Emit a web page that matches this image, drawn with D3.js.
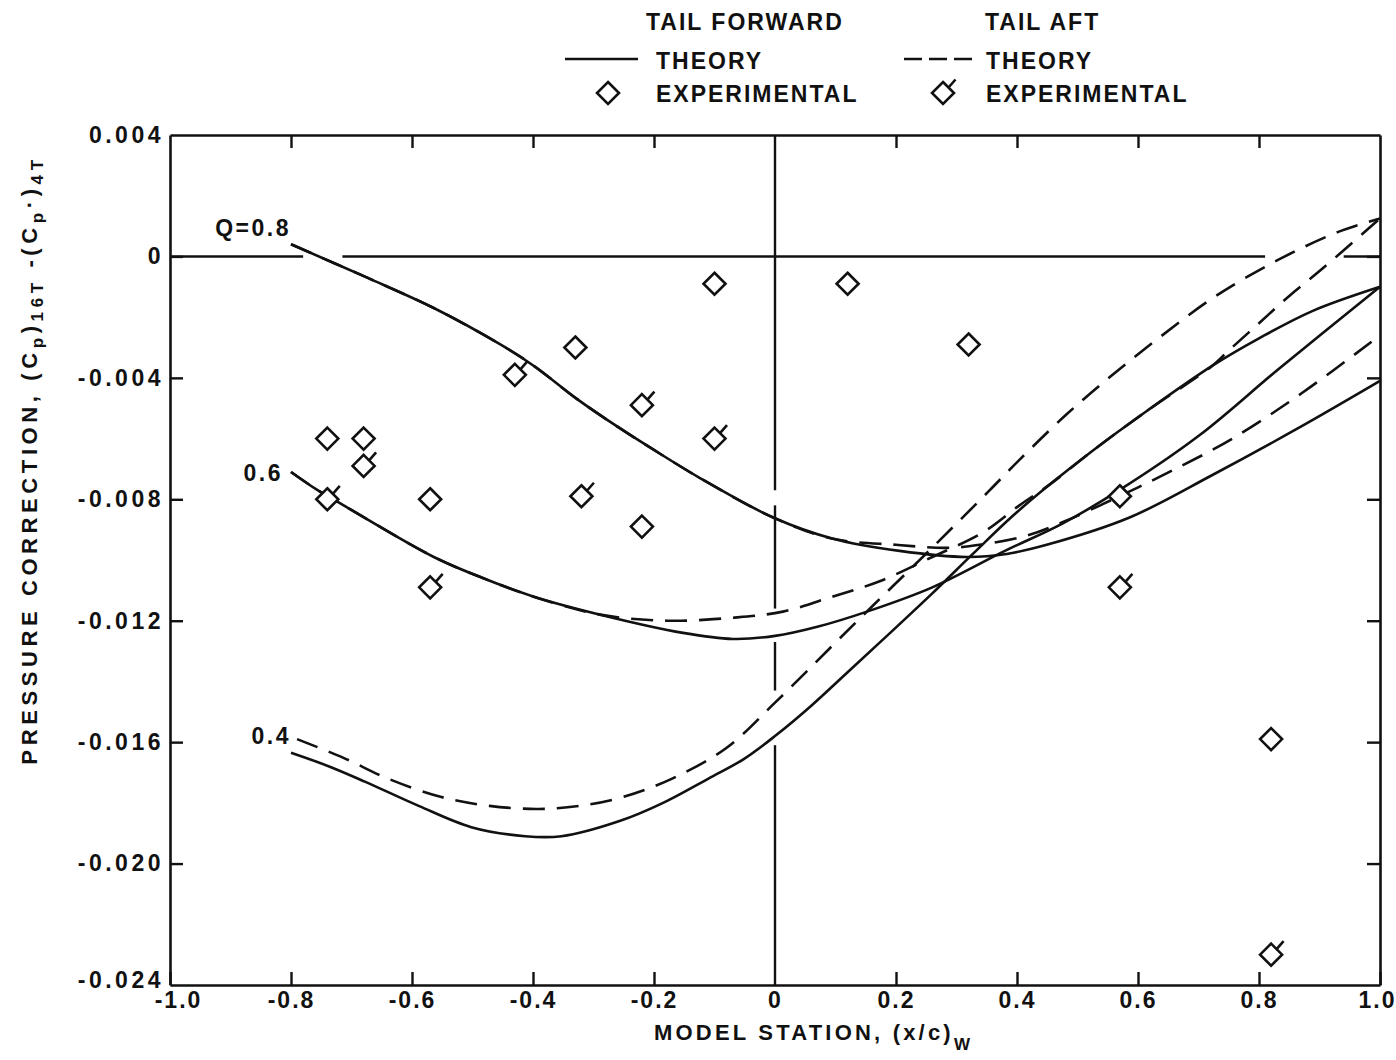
<!DOCTYPE html>
<html>
<head>
<meta charset="utf-8">
<script src="https://cdn.jsdelivr.net/npm/d3@7"></script>
<style>
  body { margin: 0; background: #fff; }
  svg text { font-family: "Liberation Sans", Arial, sans-serif; fill: #111; font-weight: bold; }
</style>
</head>
<body>
<svg id="chart" width="1396" height="1060"></svg>
<script>
// ---- axis ticks ----
const xTickValues = [-1.0, -0.8, -0.6, -0.4, -0.2, 0, 0.2, 0.4, 0.6, 0.8, 1.0];
const xTickLabels = ["-1.0", "-0.8", "-0.6", "-0.4", "-0.2", "0", "0.2", "0.4", "0.6", "0.8", "1.0"];
const yTickValues = [0.004, 0, -0.004, -0.008, -0.012, -0.016, -0.020, -0.024];
const yTickLabels = ["0.004", "0", "-0.004", "-0.008", "-0.012", "-0.016", "-0.020", "-0.024"];

// ---- theory curves: [station (x/c)w, pressure correction] ----
// tail forward (solid)
const theoryForwardQ08 = [
  [-0.80, 0.0004], [-0.674, -0.0007], [-0.564, -0.0017], [-0.454, -0.0029], [-0.399, -0.0036],
  [-0.327, -0.0047], [-0.261, -0.0056], [-0.206, -0.0063], [-0.124, -0.0073], [-0.003, -0.0086],
  [0.096, -0.0093], [0.206, -0.0097], [0.317, -0.0099], [0.383, -0.0098], [0.449, -0.0095],
  [0.586, -0.0086], [0.723, -0.0072], [0.861, -0.0057], [1.0, -0.0041]
];
const theoryForwardQ06 = [
  [-0.80, -0.0071], [-0.756, -0.0077], [-0.713, -0.0082], [-0.564, -0.0099], [-0.482, -0.0106],
  [-0.40, -0.0112], [-0.289, -0.0118], [-0.152, -0.0124], [-0.07, -0.0126], [0.0, -0.0125],
  [0.07, -0.0122], [0.152, -0.0117], [0.26, -0.0109], [0.38, -0.0097], [0.475, -0.0088],
  [0.569, -0.0077], [0.701, -0.0059], [0.833, -0.0037], [1.0, -0.0010]
];
const theoryForwardQ04 = [
  [-0.80, -0.01635], [-0.737, -0.0168], [-0.678, -0.0173], [-0.589, -0.0181], [-0.502, -0.0188],
  [-0.413, -0.0191], [-0.353, -0.0191], [-0.257, -0.0186], [-0.185, -0.0180], [-0.11, -0.0172],
  [-0.051, -0.01655], [0.0, -0.0158], [0.06, -0.0148], [0.12, -0.0137], [0.185, -0.0125],
  [0.26, -0.0111], [0.327, -0.0098], [0.39, -0.0086], [0.455, -0.0075], [0.525, -0.0064],
  [0.614, -0.0051], [0.723, -0.0036], [0.80, -0.0027], [0.888, -0.0018], [1.0, -0.0010]
];
// tail aft (dashed)
const theoryAftQ08 = [
  [-0.80, 0.0004], [-0.674, -0.0007], [-0.564, -0.0017], [-0.454, -0.0029], [-0.399, -0.0036],
  [-0.327, -0.0047], [-0.261, -0.0056], [-0.206, -0.0063], [-0.124, -0.0073], [-0.003, -0.0086],
  [0.096, -0.0093], [0.20, -0.0095], [0.284, -0.0096], [0.338, -0.0095], [0.416, -0.0092],
  [0.482, -0.0087], [0.569, -0.0079], [0.652, -0.0071], [0.756, -0.0060], [0.871, -0.0045],
  [1.0, -0.0026]
];
const theoryAftQ06 = [
  [-0.80, -0.0071], [-0.756, -0.0077], [-0.713, -0.0082], [-0.564, -0.0099], [-0.482, -0.0106],
  [-0.40, -0.0112], [-0.289, -0.0118], [-0.178, -0.0120], [-0.069, -0.0119], [0.013, -0.0117],
  [0.096, -0.0112], [0.173, -0.0107], [0.26, -0.0099], [0.343, -0.0091], [0.404, -0.0082],
  [0.455, -0.0075], [0.525, -0.0064], [0.614, -0.0051], [0.723, -0.0036], [0.75, -0.0031],
  [0.80, -0.0022], [0.85, -0.0013], [0.905, -0.0004], [1.0, 0.00125]
];
const theoryAftQ04 = [
  [-0.79, -0.0159], [-0.715, -0.0165], [-0.64, -0.0172], [-0.553, -0.0178], [-0.472, -0.0181],
  [-0.391, -0.0182], [-0.323, -0.0181], [-0.25, -0.0178], [-0.17, -0.0172], [-0.081, -0.0162],
  [0.0, -0.0147], [0.096, -0.0128], [0.162, -0.0115], [0.234, -0.0101], [0.30, -0.0088],
  [0.355, -0.0077], [0.404, -0.0067], [0.482, -0.0052], [0.558, -0.0039], [0.64, -0.0026],
  [0.729, -0.0013], [0.833, -0.0001], [0.93, 0.0008], [1.0, 0.00125]
];

// ---- experimental points ----
const expForwardX = [-0.74, -0.68, -0.57, -0.33, -0.22, -0.10, 0.12, 0.32, 0.57, 0.82];
const expForwardY = [-0.0060, -0.0060, -0.0080, -0.0030, -0.0089, -0.0009, -0.0009, -0.0029, -0.0079, -0.0159];
const expAftX = [-0.74, -0.68, -0.57, -0.43, -0.32, -0.22, -0.10, 0.57, 0.82];
const expAftY = [-0.0080, -0.0069, -0.0109, -0.0039, -0.0079, -0.0049, -0.0060, -0.0109, -0.0230];

// ---- curve labels ----
const curveLabelText = ["Q=0.8", "0.6", "0.4"];

// ---- legend text ----
const legendHeads = ["TAIL FORWARD", "TAIL AFT"];
const legendRows = ["THEORY", "EXPERIMENTAL"];

// ================= drawing =================
const svg = d3.select("#chart");
const ink = "#111";
const plotLeft = 170, plotRight = 1380, plotTop = 135, plotBottom = 985;

const x = d3.scaleLinear().domain([-1, 1]).range([plotLeft, plotRight]);
const y = d3.scaleLinear().domain([-0.024, 0.004]).range([plotBottom, plotTop]);

// reference lines (zero line and x = 0), broken where curves pass
const refG = svg.append("g").attr("stroke", ink).attr("stroke-width", 2.4);
[[-1, -0.78], [-0.715, 0.81], [0.94, 1.0]].forEach(([a, b]) => {
  refG.append("line").attr("x1", x(a)).attr("x2", x(b)).attr("y1", y(0)).attr("y2", y(0));
});
[[0.004, -0.0077], [-0.0082, -0.0116], [-0.0127, -0.0143], [-0.0161, -0.024]].forEach(([a, b]) => {
  refG.append("line").attr("x1", x(0)).attr("x2", x(0)).attr("y1", y(a)).attr("y2", y(b));
});

// axes with inward ticks
const tickLen = 13;
const bottomAxis = d3.axisBottom(x).tickValues(xTickValues)
  .tickFormat((d, i) => xTickLabels[i]).tickSizeInner(-tickLen).tickSizeOuter(0).tickPadding(7);
const topAxis = d3.axisTop(x).tickValues(xTickValues.slice(1, -1))
  .tickFormat("").tickSizeInner(-tickLen).tickSizeOuter(0);
const leftAxis = d3.axisLeft(y).tickValues(yTickValues)
  .tickFormat((d, i) => yTickLabels[i]).tickSizeInner(-tickLen).tickSizeOuter(0).tickPadding(6);
const rightAxis = d3.axisRight(y).tickValues(yTickValues.slice(1, -1))
  .tickFormat("").tickSizeInner(-tickLen).tickSizeOuter(0);

function styleAxis(g) {
  g.selectAll("path.domain").attr("stroke", ink).attr("stroke-width", 2.6);
  g.selectAll(".tick line").attr("stroke", ink).attr("stroke-width", 2.4);
  g.selectAll(".tick text").attr("fill", ink)
    .style("font-family", "'Liberation Sans', Arial, sans-serif").style("font-weight", "bold");
}

const gB = svg.append("g").attr("transform", `translate(0,${plotBottom})`).call(bottomAxis).call(styleAxis);
gB.selectAll(".tick text").style("font-size", "23px").style("letter-spacing", "2px");
gB.selectAll(".tick").filter(d => d === 0).select("line").remove();
// corner labels nudged inward so they stay clear of the frame corner and page edge
gB.selectAll(".tick").filter(d => d === -1).select("text").attr("dx", 8);
gB.selectAll(".tick").filter(d => d === 1).select("text").attr("text-anchor", "end").attr("dx", 16);
const gT = svg.append("g").attr("transform", `translate(0,${plotTop})`).call(topAxis).call(styleAxis);
gT.selectAll(".tick").filter(d => d === 0).select("line").remove();
const gL = svg.append("g").attr("transform", `translate(${plotLeft},0)`).call(leftAxis).call(styleAxis);
gL.selectAll(".tick text").style("font-size", "23px").style("letter-spacing", "3.5px");
gL.selectAll(".tick").filter(d => d === 0.004 || d === -0.024).select("line").remove();
gL.selectAll(".tick").filter(d => d === -0.024).select("text").attr("dy", "0.1em");
svg.append("g").attr("transform", `translate(${plotRight},0)`).call(rightAxis).call(styleAxis);

// theory curves
const line = d3.line().x(d => x(d[0])).y(d => y(d[1])).curve(d3.curveCatmullRom.alpha(0.5));
const curvesG = svg.append("g").attr("fill", "none").attr("stroke", ink)
  .attr("stroke-width", 2.6).attr("stroke-linecap", "butt");
[theoryForwardQ08, theoryForwardQ06, theoryForwardQ04].forEach(s => {
  curvesG.append("path").attr("d", line(s));
});
[theoryAftQ08, theoryAftQ06, theoryAftQ04].forEach(s => {
  curvesG.append("path").attr("d", line(s)).attr("stroke-dasharray", "22,12");
});

// experimental symbols
const r = 11;
const diamondPath = `M0,${-r}L${r},0L0,${r}L${-r},0Z`;
const flagPath = `M${r * 0.5},${-r * 0.5}L${r * 0.5 + 7},${-r * 0.5 - 8}`;

function drawDiamond(g, cx, cy, flagged) {
  const s = g.append("g").attr("transform", `translate(${cx},${cy})`);
  s.append("path").attr("d", diamondPath).attr("fill", "#fff")
    .attr("stroke", ink).attr("stroke-width", 2.6).attr("stroke-linejoin", "miter");
  if (flagged) {
    s.append("path").attr("d", flagPath).attr("fill", "none")
      .attr("stroke", ink).attr("stroke-width", 2.6);
  }
}
const ptsG = svg.append("g");
expForwardX.forEach((v, i) => drawDiamond(ptsG, x(v), y(expForwardY[i]), false));
expAftX.forEach((v, i) => drawDiamond(ptsG, x(v), y(expAftY[i]), true));

// curve labels, placed next to each curve's leading end
const labelStyle = t => t.style("font-size", "23px").style("letter-spacing", "2.5px").attr("text-anchor", "end");
const starts = [theoryForwardQ08[0], theoryForwardQ06[0], theoryAftQ04[0]];
const labelOffsets = [[0, -8], [-8, 9], [-6, 5]];
curveLabelText.forEach((t, i) => {
  svg.append("text").attr("x", x(starts[i][0]) + labelOffsets[i][0])
    .attr("y", y(starts[i][1]) + labelOffsets[i][1]).text(t).call(labelStyle);
});

// axis titles
svg.append("text").attr("x", 654).attr("y", 1040)
  .style("font-size", "22px").style("letter-spacing", "3.2px")
  .text("MODEL STATION, (x/c)")
  .append("tspan").attr("dy", 10).style("font-size", "17px").text("W");

const yTitle = svg.append("text")
  .attr("transform", "translate(37,460) rotate(-90)")
  .attr("text-anchor", "middle")
  .style("font-size", "22px").style("letter-spacing", "4.6px");
yTitle.append("tspan").text("PRESSURE CORRECTION, (C");
yTitle.append("tspan").attr("dy", 6).style("font-size", "17px").text("p");
yTitle.append("tspan").attr("dy", -6).text(")");
yTitle.append("tspan").attr("dy", 6).style("font-size", "17px").text("16T");
yTitle.append("tspan").attr("dy", -6).text(" -(C");
yTitle.append("tspan").attr("dy", 6).style("font-size", "17px").text("p");
yTitle.append("tspan").attr("dy", -6).text("·)");
yTitle.append("tspan").attr("dy", 6).style("font-size", "17px").text("4T");

// legend
const lg = svg.append("g");
const legendFont = t => t.style("font-size", "23px").style("letter-spacing", "2px");
lg.append("text").attr("x", 646).attr("y", 30).text(legendHeads[0]).call(legendFont);
lg.append("text").attr("x", 985).attr("y", 30).text(legendHeads[1]).call(legendFont);
lg.append("line").attr("x1", 565).attr("x2", 638).attr("y1", 59).attr("y2", 59)
  .attr("stroke", ink).attr("stroke-width", 2.6);
lg.append("line").attr("x1", 904).attr("x2", 972).attr("y1", 59).attr("y2", 59)
  .attr("stroke", ink).attr("stroke-width", 2.6).attr("stroke-dasharray", "18,7");
lg.append("text").attr("x", 656).attr("y", 69).text(legendRows[0]).call(legendFont);
lg.append("text").attr("x", 986).attr("y", 69).text(legendRows[0]).call(legendFont);
drawDiamond(lg, 608, 93, false);
drawDiamond(lg, 943, 93, true);
lg.append("text").attr("x", 656).attr("y", 102).text(legendRows[1]).call(legendFont);
lg.append("text").attr("x", 986).attr("y", 102).text(legendRows[1]).call(legendFont);
</script>
</body>
</html>
